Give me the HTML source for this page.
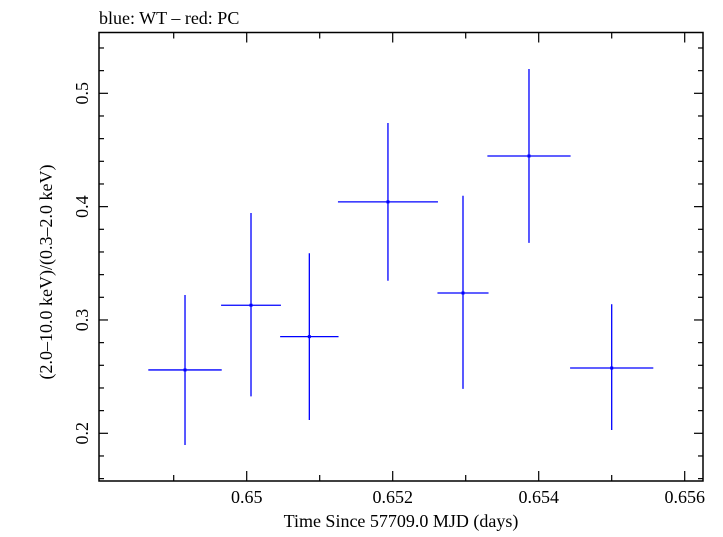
<!DOCTYPE html>
<html><head><meta charset="utf-8"><style>
body{margin:0;background:#fff}
svg text{font-family:"Liberation Serif",serif;fill:#000}
</style></head><body>
<svg id="c" width="723" height="532" viewBox="0 0 723 532" xmlns="http://www.w3.org/2000/svg">
<rect x="0" y="0" width="723" height="532" fill="#fff"/>
<text x="99" y="24" font-size="18">blue: WT – red: PC</text>
<text x="401" y="527" font-size="18" text-anchor="middle">Time Since 57709.0 MJD (days)</text>
<text transform="translate(52,272) rotate(-90)" font-size="18" text-anchor="middle">(2.0–10.0 keV)/(0.3–2.0 keV)</text>
<g id="axes"></g>
<g id="marks"></g>
<rect x="99" y="32.5" width="604" height="448.5" fill="none" stroke="#000" stroke-width="1.5"/>
</svg>
<script>
const times=[0.649155,0.650059,0.650858,0.651935,0.652963,0.653867,0.655];
const timeHalfWidths=[0.000503,0.00041,0.0004,0.000685,0.00035,0.00057,0.00057];
const ratios=[0.2559,0.3130,0.2853,0.4042,0.3238,0.4447,0.2576];
const ratioHi=[0.322,0.3944,0.3589,0.4738,0.4096,0.5215,0.3139];
const ratioLo=[0.1897,0.2326,0.2117,0.3346,0.2392,0.368,0.2029];
const xTickLabels=["0.65","0.652","0.654","0.656"];
const yTickLabels=["0.2","0.3","0.4","0.5"];
const L=99,R=703,T=32.5,B=481;
const X=t=>246.7+(t-0.65)*73000;
const Y=v=>433.3-(v-0.2)*1133.3;
const NS="http://www.w3.org/2000/svg";
function mk(tag,attrs,parent){const e=document.createElementNS(NS,tag);for(const k in attrs)e.setAttribute(k,attrs[k]);parent.appendChild(e);return e;}
const ax=document.getElementById('axes'),mg=document.getElementById('marks');
// x ticks
for(let i=-1;i<=6;i++){const t=0.65+i*0.001;const x=X(t);if(x<L||x>R)continue;const major=(i%2===0);const len=major?10:6;
 const a=mk('line',{x1:x,x2:x,y1:B,y2:B-len,stroke:'#000','stroke-width':1.2},ax);
 
 
 const b=mk('line',{x1:x,x2:x,y1:T,y2:T+len,stroke:'#000','stroke-width':1.2},ax);
 
 
}
xTickLabels.forEach(s=>{const tx=mk('text',{x:X(parseFloat(s)),y:503,'font-size':18,'text-anchor':'middle'},ax);tx.textContent=s;
 
 });
// y ticks
for(let i=0;i<=20;i++){const v=0.16+i*0.02;const y=Y(v);if(y<T||y>B)continue;const major=Math.abs((v*10)-Math.round(v*10))<1e-6;const len=major?9:5;
 const a=mk('line',{x1:L,x2:L+len,y1:y,y2:y,stroke:'#000','stroke-width':1.2},ax);
 
 
 const b=mk('line',{x1:R,x2:R-len,y1:y,y2:y,stroke:'#000','stroke-width':1.2},ax);
 
 
}
yTickLabels.forEach(s=>{const y=Y(parseFloat(s));const tx=mk('text',{transform:`translate(88,${y}) rotate(-90)`,'font-size':18,'text-anchor':'middle'},ax);tx.textContent=s;
 
 });
// data
times.forEach((t,i)=>{const g=mk('g',{},mg);
 
 
 mk('line',{x1:X(t-timeHalfWidths[i]),x2:X(t+timeHalfWidths[i]),y1:Y(ratios[i]),y2:Y(ratios[i]),stroke:'#0000ff','stroke-width':1.3},g);
 mk('line',{x1:X(t),x2:X(t),y1:Y(ratioHi[i]),y2:Y(ratioLo[i]),stroke:'#0000ff','stroke-width':1.3},g);
 mk('rect',{x:X(t)-1.5,y:Y(ratios[i])-1.5,width:3,height:3,fill:'#0000ff'},g);
});
</script>
</body></html>
